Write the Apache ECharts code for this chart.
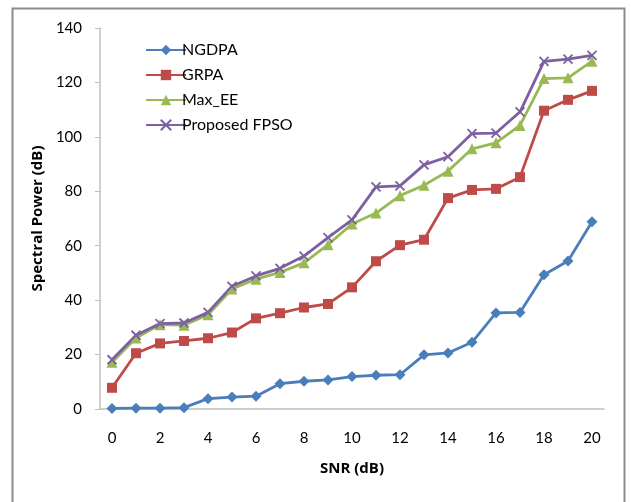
<!DOCTYPE html>
<html>
<head>
<meta charset="utf-8">
<script src="https://cdn.jsdelivr.net/npm/echarts@6/dist/echarts.min.js"></script>
<style>
html,body{margin:0;padding:0;background:#fff;}
#c{width:631px;height:502px;}
</style>
</head>
<body>
<div id="c"></div>
<script>
const categories = ['0','1','2','3','4','5','6','7','8','9','10','11','12','13','14','15','16','17','18','19','20'];
const ngdpa = [0.2,0.3,0.3,0.5,3.8,4.4,4.7,9.3,10.2,10.7,11.9,12.4,12.6,19.9,20.6,24.5,35.3,35.5,49.3,54.4,68.8];
const grpa = [7.8,20.5,24.1,25.0,26.0,28.1,33.3,35.2,37.3,38.6,44.7,54.3,60.2,62.2,77.5,80.5,80.9,85.2,109.6,113.6,116.9];
const maxEE = [17.2,26.1,31.0,30.8,34.6,44.1,47.7,50.2,53.7,60.4,68.0,72.0,78.4,82.2,87.4,95.6,97.8,104.2,121.4,121.7,127.8];
const fpso = [18.1,27.1,31.4,31.6,35.5,45.1,48.9,51.7,56.2,63.0,69.5,81.6,82.0,89.7,92.7,101.2,101.4,109.2,127.7,128.6,129.9];
const yTicks = [0,20,40,60,80,100,120,140];

const FONT = 'Lato';
const TITLE_FONT = 'Open Sans';
const chart = echarts.init(document.getElementById('c'), null, {renderer:'canvas'});
const xPath = 'path://M0,0 L10,10 M10,0 L0,10';
function ser(name, data, color, symbol, size, extra){
  return Object.assign({
    name, type:'line', data, symbol, symbolSize:size,
    lineStyle:{color, width:2.8},
    itemStyle:{color, borderColor:color, borderWidth:0},
    emphasis:{disabled:true}, animation:false
  }, extra||{});
}
chart.setOption({
  animation:false,
  backgroundColor:'#fff',
  textStyle:{fontFamily:FONT},
  graphic:[{type:'rect', shape:{x:12.5,y:8.5,width:612,height:520}, style:{fill:'none', stroke:'#8c8c8c', lineWidth:2}, z:-1}],
  grid:{left:100, right:27, top:28, bottom:93},
  legend:{
    left:140, top:37, orient:'vertical', itemGap:9, itemWidth:40, itemHeight:13,
    textStyle:{fontFamily:FONT, fontSize:16, color:'#000', padding:[0,0,0,-9]},
    data:['NGDPA','GRPA','Max_EE','Proposed FPSO']
  },
  xAxis:{
    type:'category', data:categories, boundaryGap:true,
    name:'SNR (dB)', nameLocation:'middle', nameGap:52,
    nameTextStyle:{fontFamily:TITLE_FONT, fontSize:15, fontWeight:'bold', color:'#000'},
    axisLine:{lineStyle:{color:'#bfbfbf', width:1.5}},
    axisTick:{show:false},
    axisLabel:{interval:1, margin:22, fontSize:15, color:'#000', fontFamily:FONT}
  },
  yAxis:{
    type:'value', min:0, max:140, interval:20,
    name:'Spectral Power (dB)', nameLocation:'middle', nameGap:53,
    nameTextStyle:{fontFamily:TITLE_FONT, fontSize:15, fontWeight:'bold', color:'#000'},
    axisLine:{show:true, lineStyle:{color:'#bfbfbf', width:1.5}},
    axisTick:{show:true, length:5, lineStyle:{color:'#bfbfbf'}},
    splitLine:{show:false},
    axisLabel:{margin:18, fontSize:15, color:'#000', fontFamily:FONT,
      formatter:v=>yTicks.includes(v)?String(v):''}
  },
  series:[
    ser('NGDPA', ngdpa, '#4a7ebb', 'diamond', 11),
    ser('GRPA', grpa, '#be4b48', 'rect', 10),
    ser('Max_EE', maxEE, '#98b954', 'triangle', 11),
    ser('Proposed FPSO', fpso, '#7d60a0', xPath, 9, {itemStyle:{color:'none', borderColor:'#7d60a0', borderWidth:1.8}})
  ]
});
</script>
</body>
</html>
